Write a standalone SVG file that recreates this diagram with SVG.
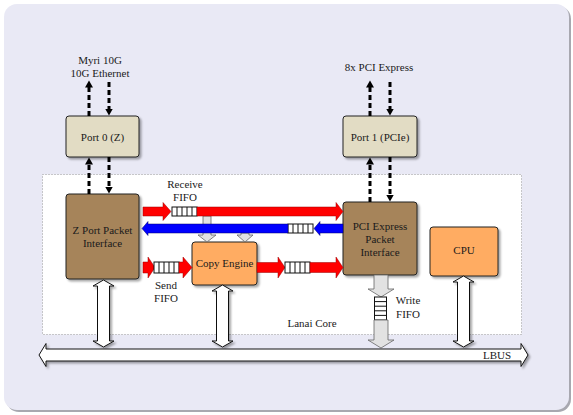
<svg xmlns="http://www.w3.org/2000/svg" width="573" height="415" viewBox="0 0 573 415">
<defs>
<filter id="sh" x="-20%" y="-20%" width="140%" height="150%"><feDropShadow dx="2" dy="2" stdDeviation="1" flood-color="#000" flood-opacity="0.35"/></filter>
<marker id="ah" markerUnits="userSpaceOnUse" markerWidth="8" markerHeight="8" refX="0.5" refY="4" orient="auto"><path d="M0,0 L7,4 L0,8 z" fill="#000"/></marker>
</defs>
<style>
text{font-family:"Liberation Serif","Times New Roman",serif;font-size:11px;fill:#1a1a1a;text-anchor:middle}
.port{fill:#e2dcc4;stroke:#222;stroke-width:1}
.brown{fill:#a6845a;stroke:#222;stroke-width:1}
.orange{fill:#ffac62;stroke:#222;stroke-width:1}
.dash{fill:none;stroke:#000;stroke-width:3;stroke-dasharray:5,3;marker-end:url(#ah)}
.red{fill:#ff0000;stroke:#900;stroke-width:0.5}
.blue{fill:#0000ff;stroke:#006;stroke-width:0.5}
.grey{fill:#e2e2e2;stroke:#666;stroke-width:0.8}
.white{fill:#fff;stroke:#111;stroke-width:1}
.fifo{fill:#fff;stroke:#111;stroke-width:1}
.fl{stroke:#111;stroke-width:1}
</style>
<rect x="6" y="6" width="565" height="406" rx="13" fill="#a8a8b0"/>
<rect x="4" y="4" width="565" height="406" rx="13" fill="#e9e9f5"/>
<rect x="42.5" y="174.5" width="479" height="160" fill="#fff" stroke="#999" stroke-width="1" stroke-dasharray="1,2"/>
<text x="312" y="327">Lanai Core</text>
<g id="labels">
<text x="100" y="64">Myri 10G</text>
<text x="100" y="77">10G Ethernet</text>
<text x="379" y="71">8x PCI Express</text>
</g>
<g id="port0"><rect class="port" x="66" y="116" width="73" height="41" rx="3" filter="url(#sh)"/><text x="102.5" y="141">Port 0 (Z)</text></g>
<g id="port1"><rect class="port" x="343" y="116" width="74" height="41" rx="3" filter="url(#sh)"/><text x="380" y="141">Port 1 (PCIe)</text></g>
<g id="zport"><rect class="brown" x="66" y="194" width="73" height="85" rx="3" filter="url(#sh)"/><text x="102.5" y="234">Z Port Packet</text><text x="102.5" y="247">Interface</text></g>
<g id="pcie"><rect class="brown" x="343" y="202" width="74" height="73" rx="3" filter="url(#sh)"/><text x="380" y="230">PCI Express</text><text x="380" y="243">Packet</text><text x="380" y="256">Interface</text></g>
<g id="cpu"><rect class="orange" x="430" y="227" width="68" height="49" rx="3" filter="url(#sh)"/><text x="464" y="254">CPU</text></g>
<g id="copyengine"><rect class="orange" x="192" y="242" width="65" height="43" rx="3" filter="url(#sh)"/><text x="224.5" y="267">Copy Engine</text></g>
<g id="connectors">
<path class="dash" d="M89 116 V87"/>
<path class="dash" d="M109 82 V109"/>
<path class="dash" d="M89 194 V164"/>
<path class="dash" d="M109 157 V187"/>
<path class="dash" d="M370 116 V87"/>
<path class="dash" d="M390 82 V109"/>
<path class="dash" d="M370 202 V164"/>
<path class="dash" d="M390 157 V195"/>
<polygon class="grey" points="203,216 211,216 211,235 216,235 207,242 198,235 203,235"/>
<polygon class="grey" points="241,233 249,233 249,235 253,235 245,242 237,235 241,235"/>
<polygon class="red" points="143,207 163,207 163,202.5 171,211.5 163,220.5 163,216 143,216"/>
<rect class="fifo" x="172" y="207" width="25" height="9"/>
<path class="fl" d="M177 207V216M182 207V216M187 207V216M192 207V216"/>
<polygon class="red" points="197,207 336,207 336,202.5 343,211.5 336,220.5 336,216 197,216"/>
<text x="185" y="188">Receive</text>
<text x="185" y="201">FIFO</text>
<polygon class="blue" points="343,224 320,224 320,221.5 314,228.5 320,235.5 320,233 343,233"/>
<rect class="fifo" x="288" y="224" width="25" height="9"/>
<path class="fl" d="M293 224V233M298 224V233M303 224V233M308 224V233"/>
<polygon class="blue" points="288,224 148,224 148,221.5 142,228.5 148,235.5 148,233 288,233"/>
<polygon class="red" points="143,262 148,262 148,257 155,267.5 148,278 148,273 143,273"/>
<rect class="fifo" x="154" y="262" width="25" height="11"/>
<path class="fl" d="M159 262V273M164 262V273M169 262V273M174 262V273"/>
<polygon class="red" points="179,262 183,262 183,257 192,267.5 183,278 183,273 179,273"/>
<text x="166" y="289">Send</text>
<text x="166" y="302">FIFO</text>
<polygon class="red" points="257,262.5 278,262.5 278,257 285,267.5 278,278 278,272.5 257,272.5"/>
<rect class="fifo" x="285" y="262" width="25" height="11"/>
<path class="fl" d="M290 262V273M295 262V273M300 262V273M305 262V273"/>
<polygon class="red" points="310,262.5 336,262.5 336,257 343,267.5 336,278 336,272.5 310,272.5"/>
<polygon class="grey" points="374,275 388,275 388,289 394,289 381,297 368,289 374,289"/>
<rect class="fifo" x="374.5" y="297" width="12" height="23"/>
<path class="fl" d="M374.5 301.6H386.5M374.5 306.2H386.5M374.5 310.8H386.5M374.5 315.4H386.5"/>
<polygon class="grey" points="374,320 388,320 388,340 394,340 381,348 368,340 374,340"/>
<text x="408" y="304">Write</text>
<text x="408" y="318">FIFO</text>
<polygon class="white" filter="url(#sh)" points="103.5,280 114,286 109.5,286 109.5,341 114,341 103.5,347 93,341 97.5,341 97.5,286 93,286"/>
<polygon class="white" filter="url(#sh)" points="222.5,285 233,291 228.5,291 228.5,341 233,341 222.5,347 212,341 216.5,341 216.5,291 212,291"/>
<polygon class="white" filter="url(#sh)" points="463.5,276 474,282 469.5,282 469.5,341 474,341 463.5,347 453,341 457.5,341 457.5,282 453,282"/>
<polygon class="white" filter="url(#sh)" points="39,355 46,343.5 46,349 521,349 521,343.5 528,355 521,366.5 521,361 46,361 46,366.5"/>
<text x="497" y="359">LBUS</text>
</g>
</svg>
